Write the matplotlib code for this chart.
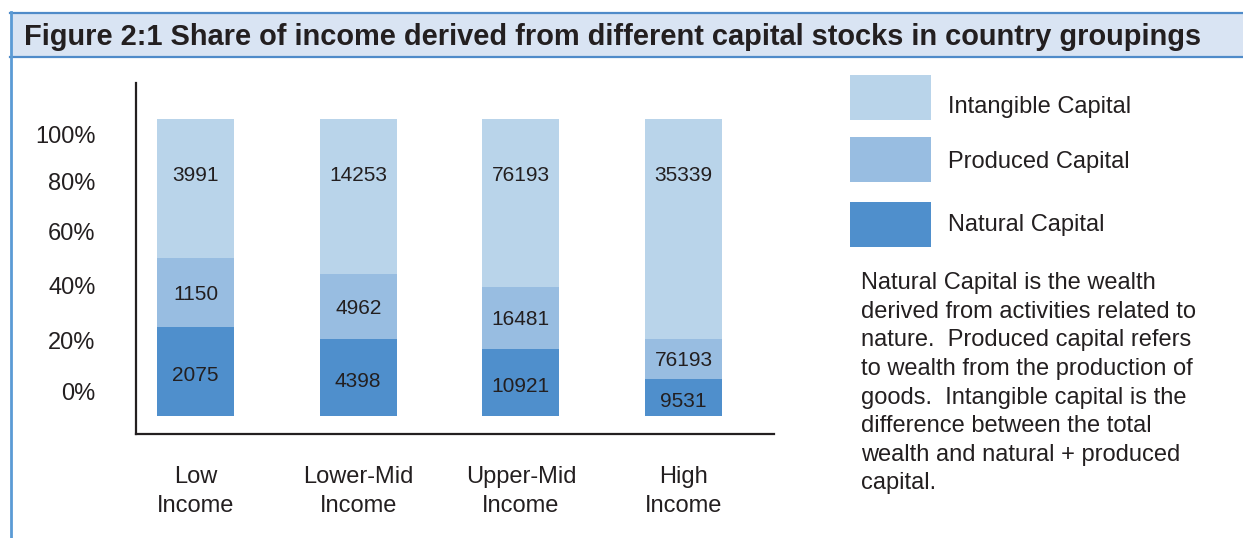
import matplotlib.pyplot as plt
from matplotlib.patches import Rectangle
from matplotlib.lines import Line2D

plt.rcParams['font.family'] = ['Liberation Sans', 'DejaVu Sans']

# data (segment shares in %, printed values as labels)
groups = ['Low\nIncome', 'Lower-Mid\nIncome', 'Upper-Mid\nIncome', 'High\nIncome']
natural_share = [29.9, 25.9, 22.5, 12.4]
produced_share = [23.2, 21.8, 20.9, 13.5]
intangible_share = [46.9, 52.3, 56.6, 74.1]
natural_lbl = ['2075', '4398', '10921', '9531']
produced_lbl = ['1150', '4962', '16481', '76193']
intangible_lbl = ['3991', '14253', '76193', '35339']
ytick_lbls = ['0%', '20%', '40%', '60%', '80%', '100%']
ytick_pos = [8.0, 25.2, 43.7, 61.9, 78.8, 94.6]   # labels sit off-grid in the original
legend_names = ['Intangible Capital', 'Produced Capital', 'Natural Capital']
note = ("Natural Capital is the wealth\nderived from activities related to\n"
        "nature.  Produced capital refers\nto wealth from the production of\n"
        "goods.  Intangible capital is the\ndifference between the total\n"
        "wealth and natural + produced\ncapital.")
title = "Figure 2:1 Share of income derived from different capital stocks in country groupings"

c_nat = '#4f8fcc'
c_prod = '#98bde1'
c_intg = '#b9d4ea'
c_txt = '#231f20'
c_border = '#4f8bc9'

W, H = 1243, 538
fig = plt.figure(figsize=(W / 100, H / 100), dpi=100)

def fx(px):
    return px / W

def fy(py):
    return 1 - py / H

# title band + left border
fig.add_artist(Rectangle((fx(11), fy(57)), fx(W - 11), 45 / H, transform=fig.transFigure,
                         facecolor='#d9e4f3', edgecolor='none'))
for yy in (12.5, 56.5):
    fig.add_artist(Line2D([fx(10), 1], [fy(yy), fy(yy)], transform=fig.transFigure,
                          color=c_border, lw=1.6))
fig.add_artist(Line2D([fx(11), fx(11)], [fy(12), 0], transform=fig.transFigure,
                      color='#5b9bd5', lw=2.0))
t = fig.text(fx(24), fy(37), title, fontsize=17, fontweight='bold', color=c_txt,
             va='center', ha='left',
             family=['Liberation Sans Narrow', 'Liberation Sans', 'DejaVu Sans'])
# fit title width to the band
fig.canvas.draw()
w = t.get_window_extent().width
t.set_fontsize(17 * 1179 / w)

ax = fig.add_axes([fx(136), fy(434), fx(774 - 136), (434 - 83) / H])
x = range(len(groups))
bw = 0.473
ax.bar(x, natural_share, bw, color=c_nat)
ax.bar(x, produced_share, bw, bottom=natural_share, color=c_prod)
base2 = [a + b for a, b in zip(natural_share, produced_share)]
ax.bar(x, intangible_share, bw, bottom=base2, color=c_intg)

for i in x:
    ax.text(i, natural_share[i] / 2 - 1.5, natural_lbl[i], ha='center', va='center',
            fontsize=15, color=c_txt)
    ax.text(i, natural_share[i] + produced_share[i] / 2 - 0.7, produced_lbl[i],
            ha='center', va='center', fontsize=15, color=c_txt)
    ax.text(i, 80.8, intangible_lbl[i], ha='center', va='center', fontsize=15, color=c_txt)

ax.set_xlim(-0.366, 3.556)
ax.set_ylim(-6.17, 112.1)
ax.set_xticks(list(x))
ax.set_xticklabels(groups, fontsize=17, color=c_txt, linespacing=1.42)
ax.set_yticks(ytick_pos)
ax.set_yticklabels(ytick_lbls, fontsize=17, color=c_txt)
ax.tick_params(axis='both', length=0)
ax.tick_params(axis='x', pad=23)
ax.tick_params(axis='y', pad=29)
for s in ('top', 'right'):
    ax.spines[s].set_visible(False)
for s in ('left', 'bottom'):
    ax.spines[s].set_color(c_txt)
    ax.spines[s].set_linewidth(1.6)

# legend drawn by hand
leg_colors = [c_intg, c_prod, c_nat]
leg_box_tops = [75, 137, 202]
leg_text_y = [106.5, 162, 225]
for name, col, top, ty in zip(legend_names, leg_colors, leg_box_tops, leg_text_y):
    fig.add_artist(Rectangle((fx(850), fy(top + 45)), fx(81), 45 / H,
                             transform=fig.transFigure, facecolor=col, edgecolor='none'))
    fig.text(fx(948), fy(ty), name, fontsize=17, color=c_txt, va='center', ha='left')

fig.text(fx(861), fy(272), note, fontsize=17, color=c_txt, va='top', ha='left',
         linespacing=1.39)

fig.savefig('out.png', dpi=100)
